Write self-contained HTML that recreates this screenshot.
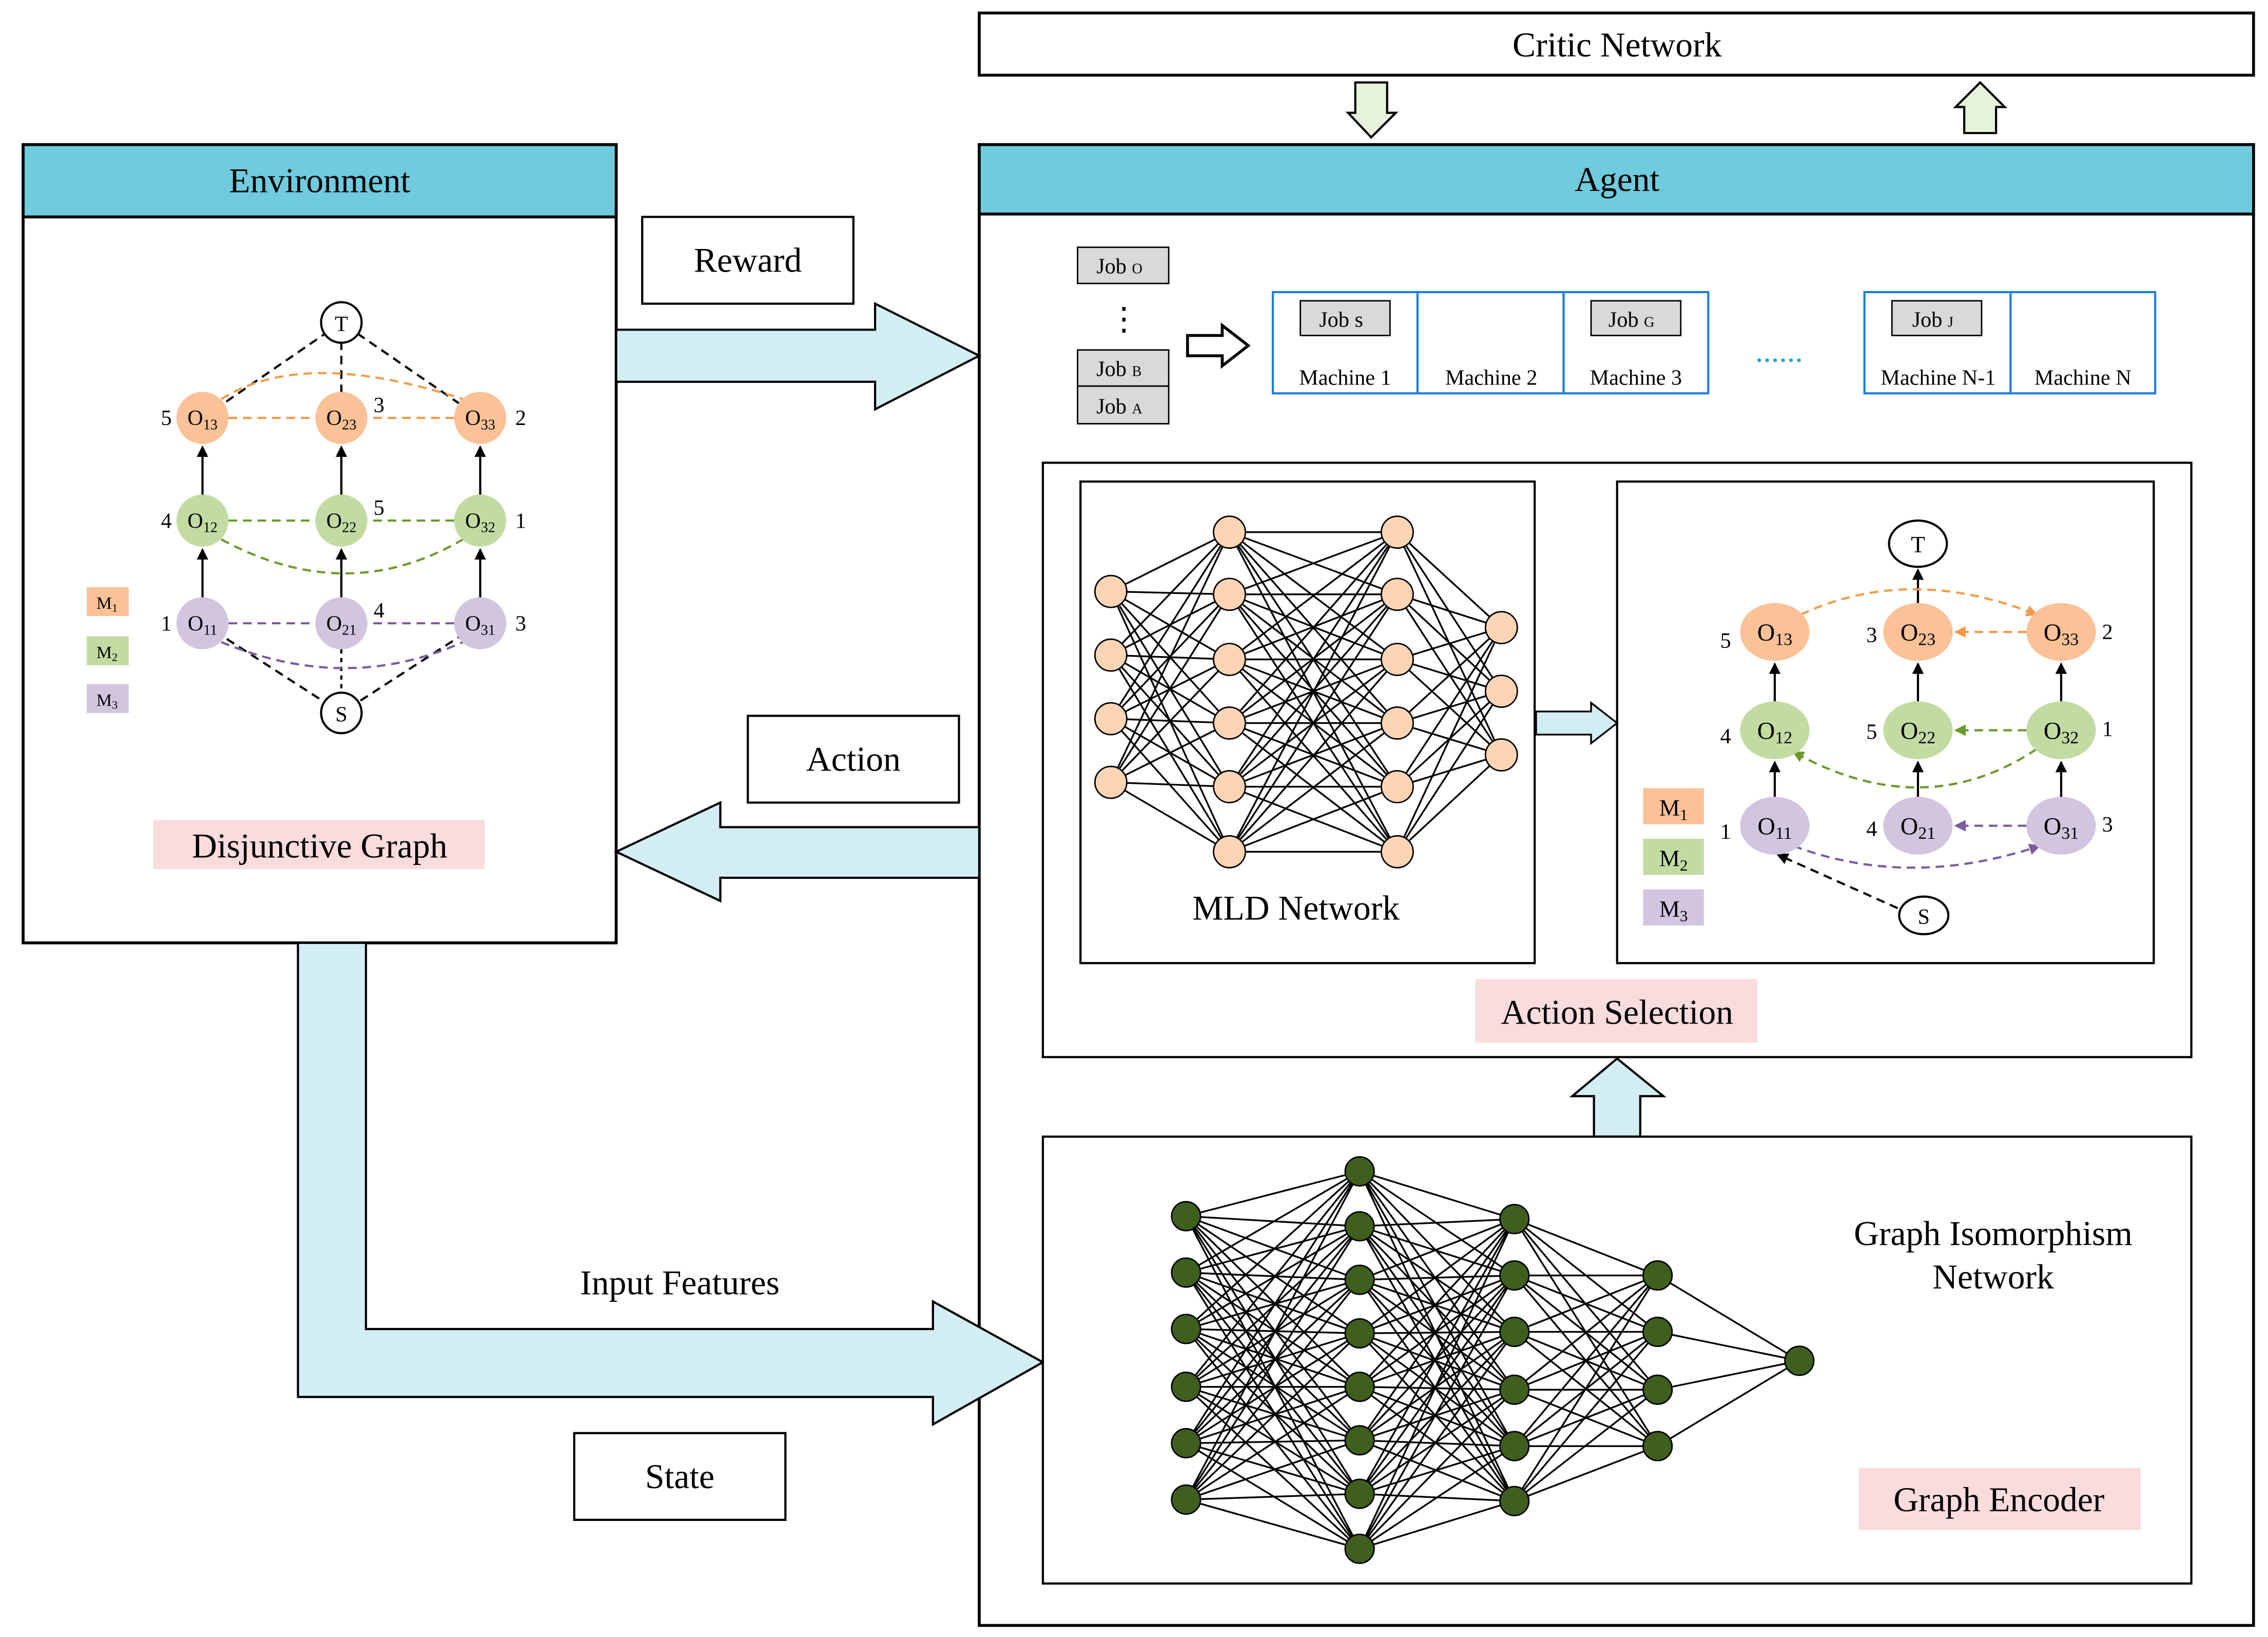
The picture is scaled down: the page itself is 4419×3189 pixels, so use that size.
<!DOCTYPE html>
<html><head><meta charset="utf-8">
<style>
html,body{margin:0;padding:0;background:#fff;}
svg{display:block;}
text{font-family:"Liberation Serif",serif;fill:#000;}
</style></head>
<body>
<svg id="s" width="4419" height="3189" viewBox="0 0 1568 1132" preserveAspectRatio="none" xmlns="http://www.w3.org/2000/svg">
<defs>
<marker id="ab" markerWidth="8" markerHeight="8" refX="7" refY="4" orient="auto" markerUnits="userSpaceOnUse"><path d="M0,0 L8,4 L0,8 z" fill="#000"/></marker>
<marker id="ao" markerWidth="8" markerHeight="8" refX="7" refY="4" orient="auto" markerUnits="userSpaceOnUse"><path d="M0,0 L8,4 L0,8 z" fill="#f39a4a"/></marker>
<marker id="ag" markerWidth="8" markerHeight="8" refX="7" refY="4" orient="auto" markerUnits="userSpaceOnUse"><path d="M0,0 L8,4 L0,8 z" fill="#6a9a2c"/></marker>
<marker id="ap" markerWidth="8" markerHeight="8" refX="7" refY="4" orient="auto" markerUnits="userSpaceOnUse"><path d="M0,0 L8,4 L0,8 z" fill="#7b5a9e"/></marker>
</defs>
<rect width="1568" height="1132" fill="#fff"/>

<!-- Critic -->
<rect x="677" y="9" width="881" height="43" fill="#fff" stroke="#000" stroke-width="2"/>
<text x="1118" y="39" font-size="24" text-anchor="middle">Critic Network</text>
<polygon points="937,57 959,57 959,78 965,78 948,95 932,78 937,78" fill="#e6f2dc" stroke="#000" stroke-width="1.5"/>
<polygon points="1358,92 1380,92 1380,74 1386,74 1369,57 1352,74 1358,74" fill="#e6f2dc" stroke="#000" stroke-width="1.5"/>

<!-- Environment -->
<rect x="16" y="100" width="410" height="552" fill="#fff" stroke="#000" stroke-width="2"/>
<rect x="16" y="100" width="410" height="50" fill="#6fcbdd" stroke="#000" stroke-width="2"/>
<text x="221" y="133" font-size="24" text-anchor="middle">Environment</text>

<!-- Agent -->
<rect x="677" y="100" width="881" height="1024" fill="#fff" stroke="#000" stroke-width="2"/>
<rect x="677" y="100" width="881" height="48" fill="#6fcbdd" stroke="#000" stroke-width="2"/>
<text x="1118" y="132" font-size="24" text-anchor="middle">Agent</text>

<!-- big arrows -->
<polygon points="426,228 605,228 605,210 677,246 605,283 605,264 426,264" fill="#d3eef3" stroke="#000" stroke-width="1.5"/>
<polygon points="677,572 498,572 498,555 426,589 498,623 498,607 677,607" fill="#d3eef3" stroke="#000" stroke-width="1.5"/>
<polygon points="206,652 253,652 253,919 645,919 645,900 721,942 645,985 645,966 206,966" fill="#d3eef3" stroke="#000" stroke-width="1.5"/>
<polygon points="1102,786 1134,786 1134,758 1150,758 1118,732 1087,758 1102,758" fill="#d3eef3" stroke="#000" stroke-width="1.5"/>

<rect x="444" y="150" width="146" height="60" fill="#fff" stroke="#000" stroke-width="1.5"/>
<text x="517" y="188" font-size="24" text-anchor="middle">Reward</text>
<rect x="517" y="495" width="146" height="60" fill="#fff" stroke="#000" stroke-width="1.5"/>
<text x="590" y="533" font-size="24" text-anchor="middle">Action</text>
<rect x="397" y="991" width="146" height="60" fill="#fff" stroke="#000" stroke-width="1.5"/>
<text x="470" y="1029" font-size="24" text-anchor="middle">State</text>
<text x="470" y="895" font-size="24" text-anchor="middle">Input Features</text>

<!-- Env disjunctive graph -->
<g stroke-width="1.5" fill="none">
<path d="M140,289 L236,223 L332,289" stroke="#000" stroke-dasharray="6,4"/>
<line x1="236" y1="236" x2="236" y2="271" stroke="#000" stroke-dasharray="6,4"/>
<path d="M140,431 L236,493 L332,431" stroke="#000" stroke-dasharray="6,4"/>
<line x1="236" y1="449" x2="236" y2="480" stroke="#000" stroke-dasharray="3,3"/>
<line x1="158" y1="289" x2="314" y2="289" stroke="#f39a4a" stroke-dasharray="6,4"/>
<path d="M153,276 Q210,240 320,276" stroke="#f39a4a" stroke-dasharray="6,4"/>
<line x1="158" y1="360" x2="314" y2="360" stroke="#6a9a2c" stroke-dasharray="6,4"/>
<path d="M153,373 Q240,420 320,373" stroke="#6a9a2c" stroke-dasharray="6,4"/>
<line x1="158" y1="431" x2="314" y2="431" stroke="#7b5a9e" stroke-dasharray="6,4"/>
<path d="M153,444 Q240,480 320,444" stroke="#7b5a9e" stroke-dasharray="6,4"/>
<line x1="140" y1="342" x2="140" y2="309" stroke="#000" marker-end="url(#ab)"/>
<line x1="236" y1="342" x2="236" y2="309" stroke="#000" marker-end="url(#ab)"/>
<line x1="332" y1="342" x2="332" y2="309" stroke="#000" marker-end="url(#ab)"/>
<line x1="140" y1="413" x2="140" y2="380" stroke="#000" marker-end="url(#ab)"/>
<line x1="236" y1="413" x2="236" y2="380" stroke="#000" marker-end="url(#ab)"/>
<line x1="332" y1="413" x2="332" y2="380" stroke="#000" marker-end="url(#ab)"/>
</g>
<circle cx="236" cy="223" r="14" fill="#fff" stroke="#000" stroke-width="1.5"/><text x="236" y="229" font-size="15" text-anchor="middle">T</text>
<circle cx="236" cy="493" r="14" fill="#fff" stroke="#000" stroke-width="1.5"/><text x="236" y="499" font-size="15" text-anchor="middle">S</text>
<g font-size="15" text-anchor="middle">
<circle cx="140" cy="289" r="18" fill="#fbc197"/><text x="140" y="294">O<tspan font-size="10" dy="3">13</tspan></text>
<circle cx="236" cy="289" r="18" fill="#fbc197"/><text x="236" y="294">O<tspan font-size="10" dy="3">23</tspan></text>
<circle cx="332" cy="289" r="18" fill="#fbc197"/><text x="332" y="294">O<tspan font-size="10" dy="3">33</tspan></text>
<circle cx="140" cy="360" r="18" fill="#c2dba2"/><text x="140" y="365">O<tspan font-size="10" dy="3">12</tspan></text>
<circle cx="236" cy="360" r="18" fill="#c2dba2"/><text x="236" y="365">O<tspan font-size="10" dy="3">22</tspan></text>
<circle cx="332" cy="360" r="18" fill="#c2dba2"/><text x="332" y="365">O<tspan font-size="10" dy="3">32</tspan></text>
<circle cx="140" cy="431" r="18" fill="#d2c5df"/><text x="140" y="436">O<tspan font-size="10" dy="3">11</tspan></text>
<circle cx="236" cy="431" r="18" fill="#d2c5df"/><text x="236" y="436">O<tspan font-size="10" dy="3">21</tspan></text>
<circle cx="332" cy="431" r="18" fill="#d2c5df"/><text x="332" y="436">O<tspan font-size="10" dy="3">31</tspan></text>
<text x="115" y="294">5</text><text x="262" y="285">3</text><text x="360" y="294">2</text>
<text x="115" y="365">4</text><text x="262" y="356">5</text><text x="360" y="365">1</text>
<text x="115" y="436">1</text><text x="262" y="427">4</text><text x="360" y="436">3</text>
</g>
<rect x="60" y="406" width="29" height="20" fill="#fbc197"/><text x="74" y="421" font-size="12" text-anchor="middle">M<tspan font-size="8" dy="2">1</tspan></text>
<rect x="60" y="440" width="29" height="20" fill="#c2dba2"/><text x="74" y="455" font-size="12" text-anchor="middle">M<tspan font-size="8" dy="2">2</tspan></text>
<rect x="60" y="473" width="29" height="20" fill="#d2c5df"/><text x="74" y="488" font-size="12" text-anchor="middle">M<tspan font-size="8" dy="2">3</tspan></text>
<rect x="106" y="567" width="229" height="34" fill="#fadcdc"/>
<text x="221" y="593" font-size="24" text-anchor="middle">Disjunctive Graph</text>

<!-- Jobs / machines -->
<g font-size="15">
<rect x="745" y="171" width="63" height="25" fill="#d9d9d9" stroke="#000"/><text x="758" y="189">Job <tspan font-size="10">O</tspan></text>
<text x="777" y="228" font-size="22" text-anchor="middle">⋮</text>
<rect x="745" y="242" width="63" height="25" fill="#d9d9d9" stroke="#000"/><text x="758" y="260">Job <tspan font-size="10">B</tspan></text>
<rect x="745" y="267" width="63" height="26" fill="#d9d9d9" stroke="#000"/><text x="758" y="286">Job <tspan font-size="10">A</tspan></text>
<polygon points="821,232 845,232 845,225 863,239 845,253 845,246 821,246" fill="#fff" stroke="#000" stroke-width="2"/>
<rect x="880" y="202" width="301" height="70" fill="none" stroke="#1e7fd8" stroke-width="1.5"/>
<line x1="980" y1="202" x2="980" y2="272" stroke="#1e7fd8" stroke-width="1.5"/>
<line x1="1081" y1="202" x2="1081" y2="272" stroke="#1e7fd8" stroke-width="1.5"/>
<rect x="1289" y="202" width="201" height="70" fill="none" stroke="#1e7fd8" stroke-width="1.5"/>
<line x1="1390" y1="202" x2="1390" y2="272" stroke="#1e7fd8" stroke-width="1.5"/>
<rect x="899" y="208" width="62" height="24" fill="#d9d9d9" stroke="#000"/><text x="912" y="226">Job s</text>
<rect x="1100" y="208" width="62" height="24" fill="#d9d9d9" stroke="#000"/><text x="1112" y="226">Job <tspan font-size="10">G</tspan></text>
<rect x="1308" y="208" width="62" height="24" fill="#d9d9d9" stroke="#000"/><text x="1322" y="226">Job <tspan font-size="10">J</tspan></text>
<text x="930" y="266" text-anchor="middle">Machine 1</text>
<text x="1031" y="266" text-anchor="middle">Machine 2</text>
<text x="1131" y="266" text-anchor="middle">Machine 3</text>
<text x="1340" y="266" text-anchor="middle">Machine N-1</text>
<text x="1440" y="266" text-anchor="middle">Machine N</text>
<text x="1230" y="250" font-size="22" fill="#1aa7d8" text-anchor="middle" style="fill:#1aa7d8">......</text>
</g>

<!-- Action selection -->
<rect x="721" y="320" width="794" height="411" fill="#fff" stroke="#000" stroke-width="1.5"/>
<rect x="747" y="333" width="314" height="333" fill="#fff" stroke="#000" stroke-width="1.5"/>
<rect x="1118" y="333" width="371" height="333" fill="#fff" stroke="#000" stroke-width="1.5"/>
<polygon points="1062,492 1100,492 1100,486 1118,500 1100,514 1100,508 1062,508" fill="#d3eef3" stroke="#000" stroke-width="1.2"/>
<g id="mld"></g>
<text x="896" y="636" font-size="24" text-anchor="middle">MLD Network</text>
<rect x="1020" y="677" width="195" height="44" fill="#fadcdc"/>
<text x="1118" y="708" font-size="24" text-anchor="middle">Action Selection</text>

<!-- right graph -->
<g stroke-width="1.5" fill="none">
<line x1="1326" y1="417" x2="1326" y2="394" stroke="#000" marker-end="url(#ab)"/>
<path d="M1245,425 Q1320,390 1408,425" stroke="#f39a4a" stroke-dasharray="6,4" marker-end="url(#ao)"/>
<line x1="1401" y1="437" x2="1352" y2="437" stroke="#f39a4a" stroke-dasharray="6,4" marker-end="url(#ao)"/>
<line x1="1401" y1="505" x2="1352" y2="505" stroke="#6a9a2c" stroke-dasharray="6,4" marker-end="url(#ag)"/>
<path d="M1408,518 Q1330,570 1240,520" stroke="#6a9a2c" stroke-dasharray="6,4" marker-end="url(#ag)"/>
<line x1="1401" y1="571" x2="1352" y2="571" stroke="#7b5a9e" stroke-dasharray="6,4" marker-end="url(#ap)"/>
<path d="M1240,585 Q1320,615 1410,585" stroke="#7b5a9e" stroke-dasharray="6,4" marker-end="url(#ap)"/>
<line x1="1227" y1="485" x2="1227" y2="459" stroke="#000" marker-end="url(#ab)"/>
<line x1="1326" y1="485" x2="1326" y2="459" stroke="#000" marker-end="url(#ab)"/>
<line x1="1425" y1="485" x2="1425" y2="459" stroke="#000" marker-end="url(#ab)"/>
<line x1="1227" y1="551" x2="1227" y2="527" stroke="#000" marker-end="url(#ab)"/>
<line x1="1326" y1="551" x2="1326" y2="527" stroke="#000" marker-end="url(#ab)"/>
<line x1="1425" y1="551" x2="1425" y2="527" stroke="#000" marker-end="url(#ab)"/>
<line x1="1312" y1="628" x2="1229" y2="591" stroke="#000" stroke-dasharray="6,4" marker-end="url(#ab)"/>
</g>
<ellipse cx="1326" cy="376" rx="20" ry="16" fill="#fff" stroke="#000" stroke-width="1.5"/><text x="1326" y="382" font-size="16" text-anchor="middle">T</text>
<ellipse cx="1330" cy="633" rx="17" ry="13" fill="#fff" stroke="#000" stroke-width="1.5"/><text x="1330" y="639" font-size="15" text-anchor="middle">S</text>
<g font-size="17" text-anchor="middle">
<ellipse cx="1227" cy="437" rx="24" ry="20" fill="#fbc197"/><text x="1227" y="443">O<tspan font-size="12" dy="3">13</tspan></text>
<ellipse cx="1326" cy="437" rx="24" ry="20" fill="#fbc197"/><text x="1326" y="443">O<tspan font-size="12" dy="3">23</tspan></text>
<ellipse cx="1425" cy="437" rx="24" ry="20" fill="#fbc197"/><text x="1425" y="443">O<tspan font-size="12" dy="3">33</tspan></text>
<ellipse cx="1227" cy="505" rx="24" ry="20" fill="#c2dba2"/><text x="1227" y="511">O<tspan font-size="12" dy="3">12</tspan></text>
<ellipse cx="1326" cy="505" rx="24" ry="20" fill="#c2dba2"/><text x="1326" y="511">O<tspan font-size="12" dy="3">22</tspan></text>
<ellipse cx="1425" cy="505" rx="24" ry="20" fill="#c2dba2"/><text x="1425" y="511">O<tspan font-size="12" dy="3">32</tspan></text>
<ellipse cx="1227" cy="571" rx="24" ry="20" fill="#d2c5df"/><text x="1227" y="577">O<tspan font-size="12" dy="3">11</tspan></text>
<ellipse cx="1326" cy="571" rx="24" ry="20" fill="#d2c5df"/><text x="1326" y="577">O<tspan font-size="12" dy="3">21</tspan></text>
<ellipse cx="1425" cy="571" rx="24" ry="20" fill="#d2c5df"/><text x="1425" y="577">O<tspan font-size="12" dy="3">31</tspan></text>
</g>
<g font-size="15" text-anchor="middle">
<text x="1193" y="448">5</text><text x="1294" y="444">3</text><text x="1457" y="442">2</text>
<text x="1193" y="514">4</text><text x="1294" y="511">5</text><text x="1457" y="509">1</text>
<text x="1193" y="580">1</text><text x="1294" y="578">4</text><text x="1457" y="575">3</text>
</g>
<rect x="1136" y="545" width="42" height="25" fill="#fbc197"/><text x="1157" y="564" font-size="16" text-anchor="middle">M<tspan font-size="11" dy="3">1</tspan></text>
<rect x="1136" y="580" width="42" height="25" fill="#c2dba2"/><text x="1157" y="599" font-size="16" text-anchor="middle">M<tspan font-size="11" dy="3">2</tspan></text>
<rect x="1136" y="615" width="42" height="25" fill="#d2c5df"/><text x="1157" y="634" font-size="16" text-anchor="middle">M<tspan font-size="11" dy="3">3</tspan></text>

<!-- GIN -->
<rect x="721" y="786" width="794" height="309" fill="#fff" stroke="#000" stroke-width="1.5"/>
<g id="gin"></g>
<text x="1378" y="861" font-size="24" text-anchor="middle">Graph Isomorphism</text>
<text x="1378" y="891" font-size="24" text-anchor="middle">Network</text>
<rect x="1285" y="1015" width="195" height="43" fill="#fadcdc"/>
<text x="1382" y="1045" font-size="24" text-anchor="middle">Graph Encoder</text>
</svg>
<script>
var NS="http://www.w3.org/2000/svg";
function net(gid,layers,r,fill){
  var g=document.getElementById(gid);
  for(var i=0;i<layers.length-1;i++){
    var a=layers[i],b=layers[i+1];
    a.ys.forEach(function(y1){b.ys.forEach(function(y2){
      var l=document.createElementNS(NS,"line");
      l.setAttribute("x1",a.x);l.setAttribute("y1",y1);l.setAttribute("x2",b.x);l.setAttribute("y2",y2);
      l.setAttribute("stroke","#000");l.setAttribute("stroke-width","1.2");g.appendChild(l);
    });});
  }
  layers.forEach(function(L){L.ys.forEach(function(y){
    var c=document.createElementNS(NS,"circle");
    c.setAttribute("cx",L.x);c.setAttribute("cy",y);c.setAttribute("r",r);
    c.setAttribute("fill",fill);c.setAttribute("stroke","#000");c.setAttribute("stroke-width","1");g.appendChild(c);
  });});
}
net("mld",[{x:768,ys:[409,453,497,541]},{x:850,ys:[368,411,456,500,544,589]},{x:966,ys:[368,411,456,500,544,589]},{x:1038,ys:[434,478,522]}],11,"#fdd5b5");
net("gin",[{x:820,ys:[841,880,919,959,998,1037]},{x:940,ys:[810,848,885,922,959,996,1033,1071]},{x:1047,ys:[843,882,921,961,1000,1038]},{x:1146,ys:[882,921,961,1000]},{x:1244,ys:[941]}],10,"#3e5f1e");
</script>
</body></html>
